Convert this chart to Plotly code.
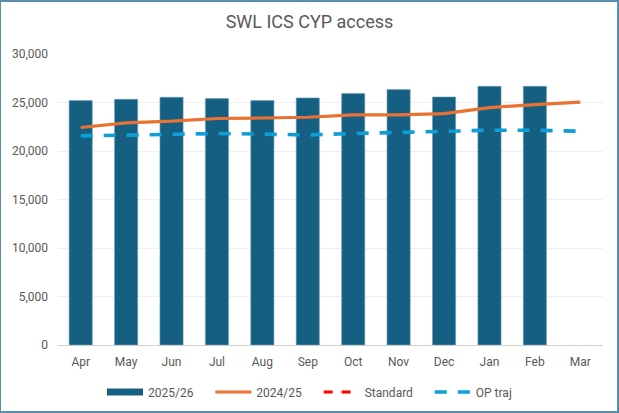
import plotly.graph_objects as go

months = ["Apr", "May", "Jun", "Jul", "Aug", "Sep", "Oct", "Nov", "Dec", "Jan", "Feb", "Mar"]
fy2526 = [25200, 25330, 25540, 25400, 25200, 25470, 25920, 26330, 25570, 26670, 26670, None]
fy2425 = [22420, 22900, 23070, 23350, 23400, 23480, 23720, 23720, 23860, 24480, 24790, 25030]
standard = [None] * 12
op_traj = [21560, 21630, 21700, 21800, 21750, 21650, 21800, 21940, 22040, 22140, 22140, 22040]
y_ticks = [0, 5000, 10000, 15000, 20000, 25000, 30000]
y_tick_text = ["0", "5,000", "10,000", "15,000", "20,000", "25,000", "30,000"]

FONT = "Liberation Sans Narrow, Arial Narrow, Roboto, Liberation Sans, sans-serif"
GREY = "#595959"
BAR = "#156082"
SP = "\u00a0" * 4

fig = go.Figure()
fig.add_trace(go.Bar(
    x=months, y=fy2526, name="2025/26", showlegend=False,
    marker=dict(color=BAR, line=dict(color="#6f9fb6", width=0.6)),
))
# legend entry drawn as a wide block like the reference
fig.add_trace(go.Scatter(
    x=months, y=standard, name="2025/26" + SP, mode="lines",
    line=dict(color=BAR, width=7), hoverinfo="skip",
))
fig.add_trace(go.Scatter(
    x=months, y=fy2425, name="2024/25" + SP, mode="lines",
    line=dict(color="#E97132", width=3.2),
))
fig.add_trace(go.Scatter(
    x=months, y=standard, name="Standard" + SP, mode="lines",
    line=dict(color="#FF0000", width=3.2, dash="9px,9px"),
))
fig.add_trace(go.Scatter(
    x=months, y=op_traj, name="OP traj", mode="lines",
    line=dict(color="#0F9ED5", width=3.6, dash="12px,11px"),
))

fig.update_layout(
    width=619, height=413,
    margin=dict(l=58, r=16, t=54, b=68, autoexpand=False),
    paper_bgcolor="white", plot_bgcolor="white",
    font=dict(family=FONT, size=12, color=GREY),
    title=dict(text="SWL ICS CYP access", x=0.5, xanchor="center",
               y=1 - 22 / 413, yanchor="middle", yref="container",
               font=dict(family=FONT, size=18, color=GREY)),
    bargap=0.49,
    showlegend=True,
    legend=dict(orientation="h", xref="container", yref="container",
                x=0.5, xanchor="center", y=21 / 413, yanchor="middle",
                font=dict(family=FONT, size=12, color=GREY),
                itemwidth=36, tracegroupgap=0),
    shapes=[dict(type="rect", xref="paper", yref="paper",
                 x0=-58 / 545, x1=1 + 15 / 545, y0=-67 / 291, y1=1 + 53 / 291,
                 line=dict(color="#5a8fab", width=2), layer="above")],
)
fig.update_xaxes(
    showgrid=False, showline=True, linecolor="#d0d0d0", linewidth=1,
    ticks="", ticklabelstandoff=6, tickfont=dict(size=12, color=GREY),
    automargin=False,
)
fig.update_yaxes(
    range=[0, 30000], tickvals=y_ticks, ticktext=y_tick_text,
    showgrid=True, gridcolor="#efefef", gridwidth=1, zeroline=False,
    showline=False, ticks="", ticklabelstandoff=9,
    tickfont=dict(size=12, color=GREY), automargin=False,
)

fig.write_html("out.html")
